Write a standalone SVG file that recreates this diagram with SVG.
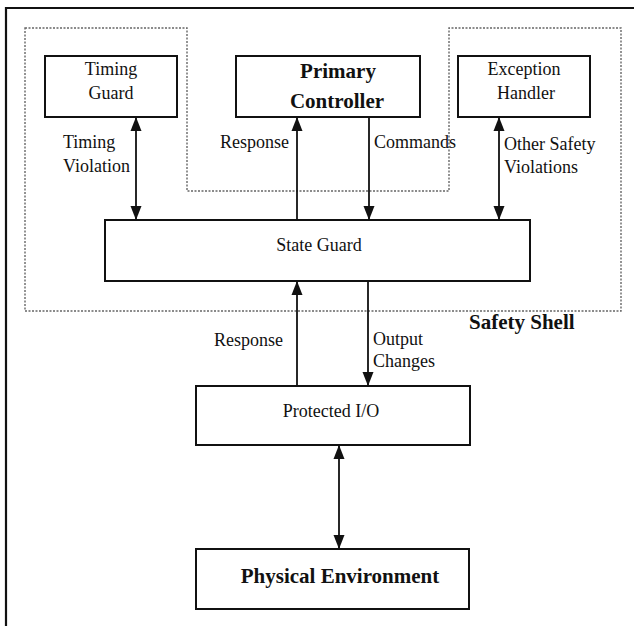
<svg xmlns="http://www.w3.org/2000/svg" width="634" height="626" viewBox="0 0 634 626">
<style>
.box{fill:#fff;stroke:#111;stroke-width:2}
.t{font-family:"Liberation Serif","Times New Roman",serif;font-size:18px;fill:#111}
.b{font-family:"Liberation Serif","Times New Roman",serif;font-size:21px;font-weight:bold;fill:#111}
.ln{stroke:#111;stroke-width:1.8;fill:none}
.shell{fill:none;stroke:#666;stroke-width:1.4;stroke-dasharray:2 1.5}
</style>
<defs>
<marker id="ah" markerUnits="userSpaceOnUse" markerWidth="14" markerHeight="12" refX="14" refY="6" orient="auto-start-reverse">
<path d="M0,0.5 L14,6 L0,11.5 z" fill="#111"/>
</marker>
</defs>
<rect width="634" height="626" fill="#fff"/>
<path d="M6,626 V8 H634" fill="none" stroke="#111" stroke-width="2.2"/>
<g id="safety-shell">
<path class="shell" d="M25,28 H187 V191 H449 V28 H621 V311 H25 Z"/>
<text class="b" x="469" y="329">Safety Shell</text>
</g>
<g id="timing-guard">
<rect class="box" x="45" y="56" width="132" height="61"/>
<text class="t" x="111" y="75" text-anchor="middle">Timing</text>
<text class="t" x="111" y="99" text-anchor="middle">Guard</text>
</g>
<g id="primary-controller">
<rect class="box" x="236" y="56" width="184" height="61"/>
<text class="b" x="338" y="78" text-anchor="middle">Primary</text>
<text class="b" x="337" y="108" text-anchor="middle">Controller</text>
</g>
<g id="exception-handler">
<rect class="box" x="458" y="56" width="132" height="61"/>
<text class="t" x="524" y="75" text-anchor="middle">Exception</text>
<text class="t" x="526" y="99" text-anchor="middle">Handler</text>
</g>
<g id="state-guard">
<rect class="box" x="105" y="220" width="425" height="61"/>
<text class="t" x="319" y="251" text-anchor="middle">State Guard</text>
</g>
<g id="protected-io">
<rect class="box" x="196" y="386" width="274" height="59"/>
<text class="t" x="331" y="417" text-anchor="middle">Protected I/O</text>
</g>
<g id="physical-environment">
<rect class="box" x="196" y="549" width="273" height="60"/>
<text class="b" x="340" y="583" text-anchor="middle">Physical Environment</text>
</g>
<g id="connectors">
<line class="ln" x1="136" y1="117" x2="136" y2="220" marker-start="url(#ah)" marker-end="url(#ah)"/>
<line class="ln" x1="297" y1="220" x2="297" y2="117" marker-end="url(#ah)"/>
<line class="ln" x1="369" y1="117" x2="369" y2="220" marker-end="url(#ah)"/>
<line class="ln" x1="499" y1="117" x2="499" y2="220" marker-start="url(#ah)" marker-end="url(#ah)"/>
<line class="ln" x1="297" y1="386" x2="297" y2="281" marker-end="url(#ah)"/>
<line class="ln" x1="368" y1="281" x2="368" y2="386" marker-end="url(#ah)"/>
<line class="ln" x1="339" y1="445" x2="339" y2="549" marker-start="url(#ah)" marker-end="url(#ah)"/>
<text class="t" x="63" y="148">Timing</text>
<text class="t" x="63" y="172">Violation</text>
<text class="t" x="220" y="148">Response</text>
<text class="t" x="374" y="148">Commands</text>
<text class="t" x="504" y="150">Other Safety</text>
<text class="t" x="504" y="173">Violations</text>
<text class="t" x="214" y="346">Response</text>
<text class="t" x="373" y="345">Output</text>
<text class="t" x="373" y="367">Changes</text>
</g>
</svg>
